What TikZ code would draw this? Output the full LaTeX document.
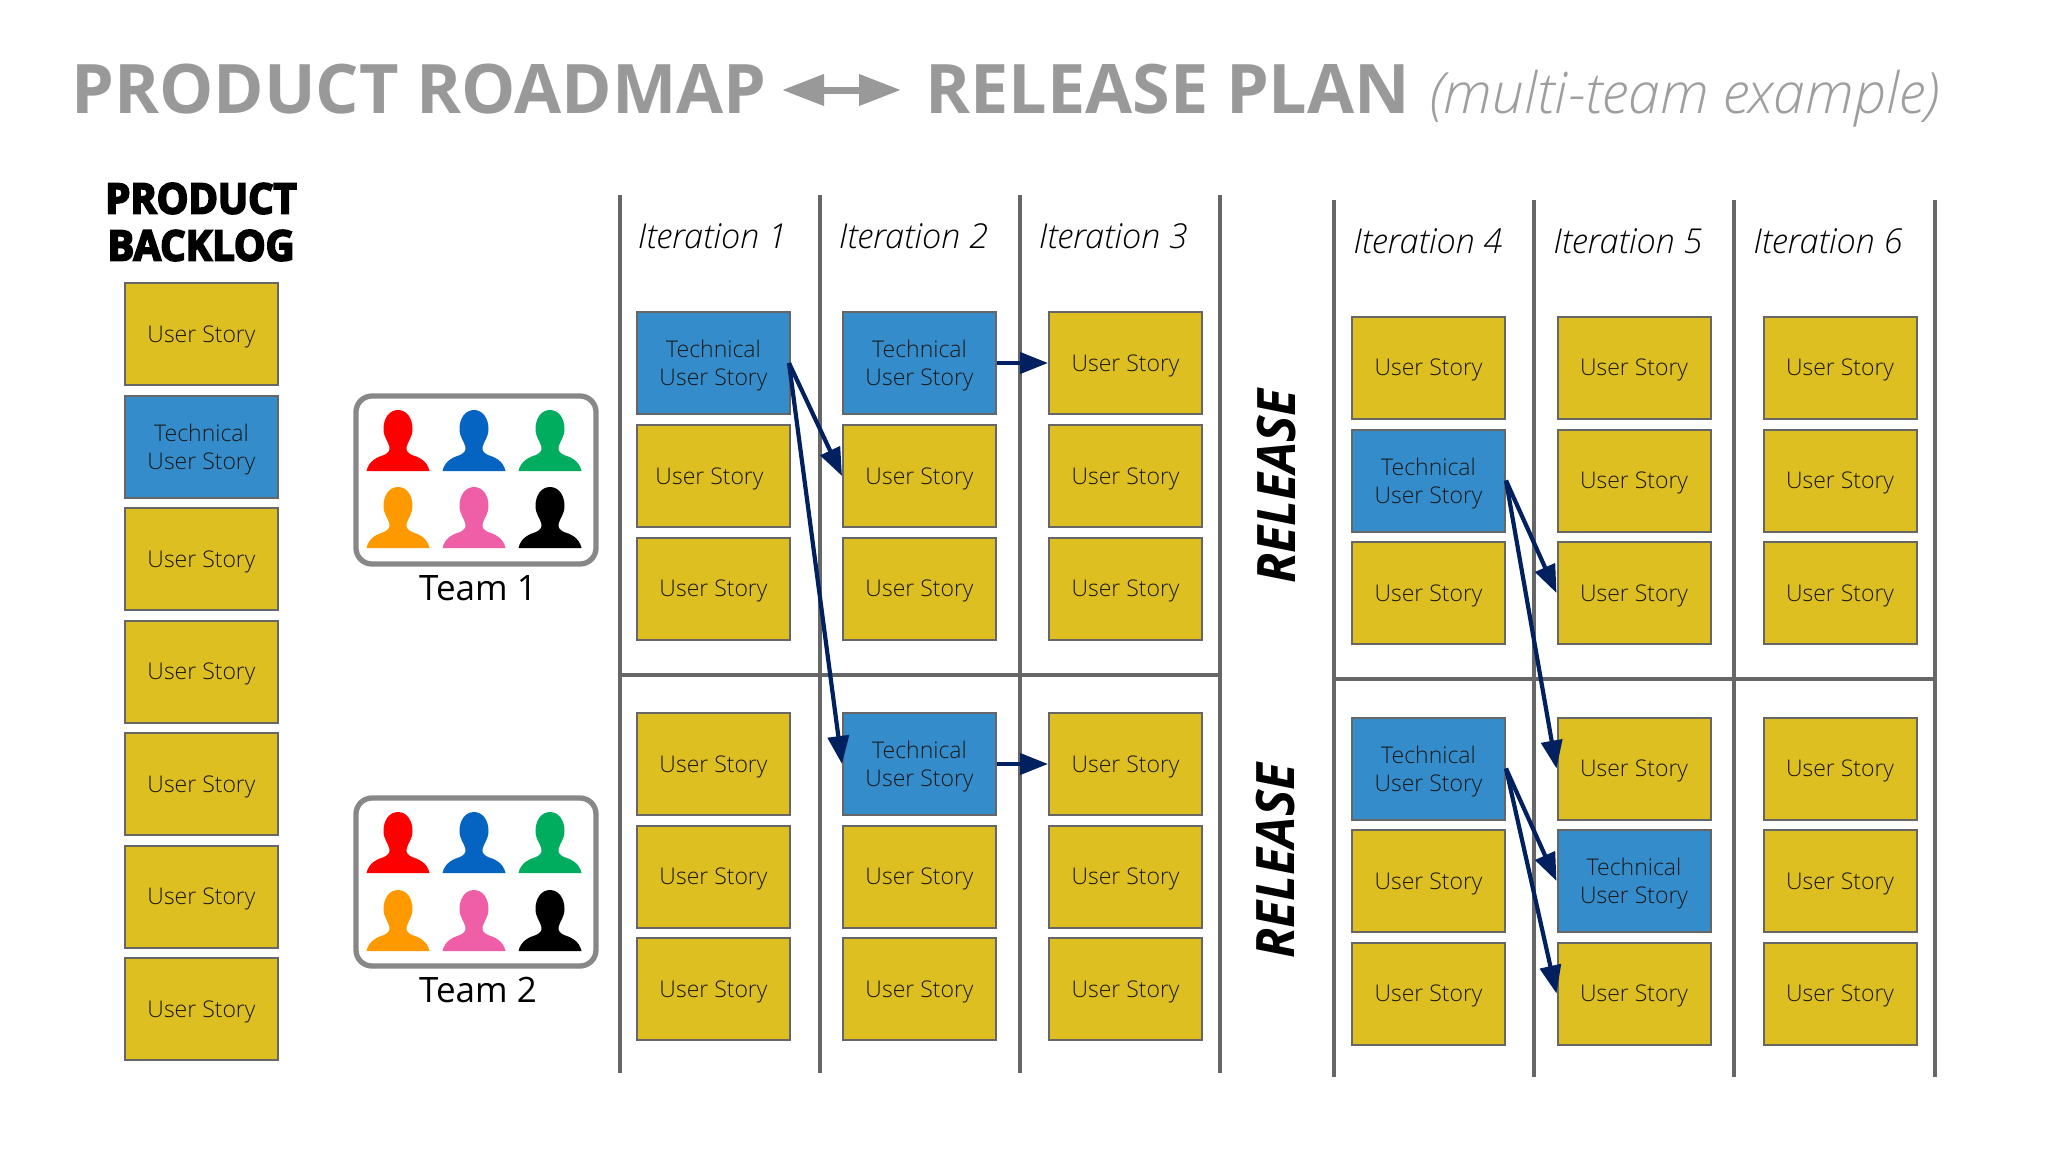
\documentclass[tikz,border=0pt]{standalone}
\usepackage{fontspec}
\usepackage{tikz}
\usetikzlibrary{arrows.meta, positioning}
\setmainfont{Open Sans}
\newfontfamily\lightfont{Open Sans Light}
\newfontfamily\narrowfont{Open Sans}[BoldItalicFeatures={FakeStretch=0.94}]
\newfontfamily\heavyfont{Open Sans}[BoldFeatures={FakeBold=4.5,FakeStretch=0.95}]
\definecolor{cardyellow}{HTML}{DEBF22}
\definecolor{cardblue}{HTML}{358CCB}
\definecolor{cardedge}{HTML}{666666}
\definecolor{gridgray}{HTML}{666666}
\definecolor{titlegray}{HTML}{999999}
\definecolor{boxgray}{HTML}{888888}
\definecolor{depnavy}{HTML}{002060}
\definecolor{teamred}{HTML}{FF0000}
\definecolor{teamblue}{HTML}{0563C1}
\definecolor{teamgreen}{HTML}{00AD5F}
\definecolor{teamorange}{HTML}{FF9900}
\definecolor{teampink}{HTML}{EE5FA7}

\begin{document}
\begin{tikzpicture}[
    x=1pt, y=-1pt,
    story/.style={rectangle, draw=cardedge, line width=2pt, fill=cardyellow, inner sep=0pt,
        minimum width=153pt, minimum height=102pt, align=center, text=black!90, text depth=0pt,
        font=\lightfont\fontsize{23}{27.6}\selectfont},
    tech/.style={story, fill=cardblue},
    iterlabel/.style={anchor=base, inner sep=0pt, font=\lightfont\itshape\fontsize{34.3}{40}\selectfont},
    gridline/.style={draw=gridgray, line width=4pt},
    dep/.style={-{Triangle[length=28pt, width=21pt]}, draw=depnavy, fill=depnavy, line width=4.2pt},
    teambox/.style={rectangle, draw=boxgray, line width=5.3pt, rounded corners=16pt,
        minimum width=240pt, minimum height=168pt},
    teamlabel/.style={anchor=base, inner sep=0pt, font=\fontsize{35}{40}\selectfont},
    releaselabel/.style={rotate=90, inner sep=0pt, font=\narrowfont\bfseries\itshape\fontsize{53}{60}\selectfont},
    titlelabel/.style={anchor=base west, inner sep=0pt, text=titlegray, font=\bfseries\fontsize{68.3}{72}\selectfont},
    member/.pic={
        \fill[pic actions] (0,0) .. controls (8.5,0) and (14.5,8) .. (14.5,19)
            .. controls (14.5,27) and (10,31) .. (8.5,37)
            .. controls (8,41) and (10,43) .. (14,45)
            .. controls (20,47) and (29,50) .. (31.5,61)
            -- (-31.5,61)
            .. controls (-29,50) and (-20,47) .. (-14,45)
            .. controls (-10,43) and (-8,41) .. (-8.5,37)
            .. controls (-10,31) and (-14.5,27) .. (-14.5,19)
            .. controls (-14.5,8) and (-8.5,0) .. (0,0) -- cycle;
    }
]

\fill[white] (0,0) rectangle (2048,1152);
\useasboundingbox (0,0) rectangle (2048,1152);

% title
\node[titlelabel] (roadmap) at (71,113) {PRODUCT ROADMAP};
\node[titlelabel] (plan) at (925,113) {RELEASE PLAN};
\node[titlelabel, font=\lightfont\itshape\fontsize{57}{60}\selectfont, text=titlegray!95] (multi) at (1429,113) {(multi-team example)};
\coordinate (titleleft) at (782,90);
\coordinate (titleright) at (901,90);
\draw[{Triangle[length=42pt, width=30pt]}-{Triangle[length=42pt, width=30pt]}, draw=titlegray, fill=titlegray, line width=7pt]
    (titleleft) -- (titleright);

% backlog
\node[inner sep=0pt, align=center, font=\heavyfont\bfseries\fontsize{42}{47}\selectfont] (backlogtitle) at (201,222) {PRODUCT\\BACKLOG};
\node[story] (b1) at (201.5,334) {User Story};
\node[tech] (b2) at (201.5,446.5) {Technical\\User Story};
\node[story] (b3) at (201.5,559) {User Story};
\node[story] (b4) at (201.5,671.5) {User Story};
\node[story] (b5) at (201.5,784) {User Story};
\node[story] (b6) at (201.5,896.5) {User Story};
\node[story] (b7) at (201.5,1009) {User Story};

% teams
\node[teambox] (team1) at (476,480) {};
\node[teamlabel] (team1label) at (478,600) {Team 1};
\pic[fill=teamred] at (398,410) {member};
\pic[fill=teamblue] at (474,410) {member};
\pic[fill=teamgreen] at (550,410) {member};
\pic[fill=teamorange] at (398,487) {member};
\pic[fill=teampink] at (474,487) {member};
\pic[fill=black] at (550,487) {member};

\node[teambox] (team2) at (476,882) {};
\node[teamlabel] (team2label) at (478,1002) {Team 2};
\pic[fill=teamred] at (398,812) {member};
\pic[fill=teamblue] at (474,812) {member};
\pic[fill=teamgreen] at (550,812) {member};
\pic[fill=teamorange] at (398,890) {member};
\pic[fill=teampink] at (474,890) {member};
\pic[fill=black] at (550,890) {member};

% first release grid
\draw[gridline] (619.5,195) -- (619.5,1073);
\draw[gridline] (819.5,195) -- (819.5,1073);
\draw[gridline] (1019.5,195) -- (1019.5,1073);
\draw[gridline] (1220,195) -- (1220,1073);
\draw[gridline] (619.5,675) -- (1220,675);

\node[iterlabel] (it1) at (712.5,248) {Iteration 1};
\node[iterlabel] (it2) at (913.5,248) {Iteration 2};
\node[iterlabel] (it3) at (1113.5,248) {Iteration 3};

\node[tech] (a11) at (713.5,363) {Technical\\User Story};
\node[story] (a12) at (713.5,476) {User Story\kern8pt};
\node[story] (a13) at (713.5,588.5) {User Story};
\node[story] (a14) at (713.5,764) {User Story};
\node[story] (a15) at (713.5,876.5) {User Story};
\node[story] (a16) at (713.5,989) {User Story};

\node[tech] (a21) at (919.5,363) {Technical\\User Story};
\node[story] (a22) at (919.5,476) {User Story};
\node[story] (a23) at (919.5,588.5) {User Story};
\node[tech] (a24) at (919.5,764) {Technical\\User Story};
\node[story] (a25) at (919.5,876.5) {User Story};
\node[story] (a26) at (919.5,989) {User Story};

\node[story] (a31) at (1125.5,363) {User Story};
\node[story] (a32) at (1125.5,476) {User Story};
\node[story] (a33) at (1125.5,588.5) {User Story};
\node[story] (a34) at (1125.5,764) {User Story};
\node[story] (a35) at (1125.5,876.5) {User Story};
\node[story] (a36) at (1125.5,989) {User Story};

% second release grid
\draw[gridline] (1334,200) -- (1334,1077);
\draw[gridline] (1534,200) -- (1534,1077);
\draw[gridline] (1734,200) -- (1734,1077);
\draw[gridline] (1935,200) -- (1935,1077);
\draw[gridline] (1334,679) -- (1935,679);

\node[iterlabel] (it4) at (1428,253) {Iteration 4};
\node[iterlabel] (it5) at (1628,253) {Iteration 5};
\node[iterlabel] (it6) at (1828,253) {Iteration 6};

\node[story] (c11) at (1428.5,367.5) {User Story};
\node[tech] (c12) at (1428.5,480.5) {Technical\\User Story};
\node[story] (c13) at (1428.5,593) {User Story};
\node[tech] (c14) at (1428.5,768.5) {Technical\\User Story};
\node[story] (c15) at (1428.5,881) {User Story};
\node[story] (c16) at (1428.5,993.5) {User Story};

\node[story] (c21) at (1634,367.5) {User Story};
\node[story] (c22) at (1634,480.5) {User Story};
\node[story] (c23) at (1634,593) {User Story};
\node[story] (c24) at (1634,768.5) {User Story};
\node[tech] (c25) at (1634,881) {Technical\\User Story};
\node[story] (c26) at (1634,993.5) {User Story};

\node[story] (c31) at (1840,367.5) {User Story};
\node[story] (c32) at (1840,480.5) {User Story};
\node[story] (c33) at (1840,593) {User Story};
\node[story] (c34) at (1840,768.5) {User Story};
\node[story] (c35) at (1840,881) {User Story};
\node[story] (c36) at (1840,993.5) {User Story};

% release labels
\node[releaselabel] (release1) at (1277,486.5) {RELEASE};
\node[releaselabel] (release2) at (1276,861) {RELEASE};

% dependencies
\draw[dep] ([xshift=-2pt]a11.east) -- (a22.west);
\draw[dep] ([xshift=-2pt]a11.east) -- (a24.west);
\draw[dep] (a21.east) -- (a31.west);
\draw[dep] (a24.east) -- (a34.west);
\draw[dep] (c12.east) -- (c23.west);
\draw[dep] (c12.east) -- (c24.west);
\draw[dep] (c14.east) -- (c25.west);
\draw[dep] (c14.east) -- (c26.west);

\end{tikzpicture}
\end{document}
